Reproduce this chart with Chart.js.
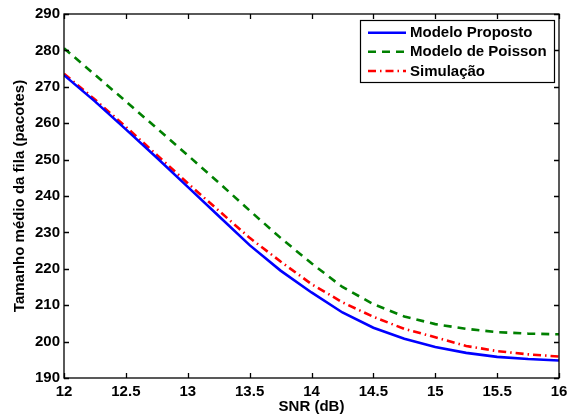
<!DOCTYPE html>
<html>
<head>
<meta charset="utf-8">
<script src="https://cdn.jsdelivr.net/npm/chart.js@4/dist/chart.umd.min.js"></script>
<style>
html,body{margin:0;padding:0;background:#fff;}
canvas{display:block;}
</style>
</head>
<body>
<canvas id="c" width="574" height="417"></canvas>
<script>
const snr = [12, 12.25, 12.5, 12.75, 13, 13.25, 13.5, 13.75, 14, 14.25, 14.5, 14.75, 15, 15.25, 15.5, 15.75, 16];
const modeloProposto = [273.2, 266, 258.3, 250.5, 242.5, 234.5, 226.5, 219.5, 213.5, 208, 203.8, 200.8, 198.5, 196.9, 195.8, 195.2, 194.8];
const modeloPoisson = [280.6, 273.3, 266, 258.6, 251.2, 243.7, 236, 228.5, 221.5, 215, 210.3, 206.9, 204.8, 203.5, 202.6, 202.2, 202];
const simulacao = [273.6, 266.5, 259, 251.3, 243.5, 236, 228.5, 222, 215.8, 210.8, 206.8, 203.5, 201.2, 198.8, 197.4, 196.5, 195.9];
const seriesNames = ['Modelo Proposto', 'Modelo de Poisson', 'Simulação'];
const xTicks = [12, 12.5, 13, 13.5, 14, 14.5, 15, 15.5, 16];
const yTicks = [190, 200, 210, 220, 230, 240, 250, 260, 270, 280, 290];
const xTitle = 'SNR (dB)';
const yTitle = 'Tamanho médio da fila (pacotes)';

const FONT = 'Liberation Sans, Arial, Helvetica, sans-serif';
const pts = arr => snr.map((x, i) => ({x: x, y: arr[i]}));

const framePlugin = {
  id: 'frame',
  afterDatasetsDraw(chart) {
    const {ctx, chartArea: a, scales} = chart;
    ctx.save();
    ctx.strokeStyle = '#000';
    ctx.lineWidth = 1.3;
    ctx.setLineDash([]);
    const L = 5;
    ctx.beginPath();
    xTicks.forEach(v => {
      const px = Math.round(scales.x.getPixelForValue(v)) + 0.5;
      ctx.moveTo(px, a.bottom); ctx.lineTo(px, a.bottom - L);
      ctx.moveTo(px, a.top); ctx.lineTo(px, a.top + L);
    });
    yTicks.forEach(v => {
      const py = Math.round(scales.y.getPixelForValue(v)) + 0.5;
      ctx.moveTo(a.left, py); ctx.lineTo(a.left + L, py);
      ctx.moveTo(a.right, py); ctx.lineTo(a.right - L, py);
    });
    ctx.stroke();
    ctx.strokeRect(a.left, a.top, a.right - a.left, a.bottom - a.top);
    ctx.restore();
  }
};

const legendPlugin = {
  id: 'boxLegend',
  afterDraw(chart) {
    const {ctx} = chart;
    const bx = 360, by = 20, bw = 194, bh = 62;
    ctx.save();
    ctx.fillStyle = '#fff';
    ctx.fillRect(bx, by, bw, bh);
    ctx.strokeStyle = '#000';
    ctx.lineWidth = 1.2;
    ctx.setLineDash([]);
    ctx.strokeRect(bx + 0.5, by + 0.5, bw, bh);
    const rows = [32.7, 51.7, 71];
    chart.data.datasets.forEach((ds, i) => {
      const y = rows[i];
      ctx.beginPath();
      ctx.strokeStyle = ds.borderColor;
      ctx.lineWidth = ds.borderWidth;
      ctx.setLineDash(ds.borderDash || []);
      ctx.moveTo(368, y); ctx.lineTo(406, y);
      ctx.stroke();
      ctx.setLineDash([]);
      ctx.fillStyle = '#000';
      ctx.font = 'bold 15px ' + FONT;
      ctx.textBaseline = 'middle';
      ctx.textAlign = 'left';
      ctx.fillText(ds.label, 410, y + 0.5);
    });
    ctx.restore();
  }
};

new Chart(document.getElementById('c'), {
  type: 'line',
  data: {
    datasets: [
      {label: seriesNames[0], data: pts(modeloProposto), borderColor: '#0000ff', borderWidth: 2.6, pointRadius: 0, fill: false, tension: 0},
      {label: seriesNames[1], data: pts(modeloPoisson), borderColor: '#008000', borderWidth: 2.6, borderDash: [8, 6], pointRadius: 0, fill: false, tension: 0},
      {label: seriesNames[2], data: pts(simulacao), borderColor: '#ff0000', borderWidth: 2.6, borderDash: [8, 4, 1.5, 4], pointRadius: 0, fill: false, tension: 0}
    ]
  },
  options: {
    responsive: false,
    animation: false,
    devicePixelRatio: 1,
    layout: {padding: {left: 0, right: 15, top: 14, bottom: 0}},
    plugins: {legend: {display: false}, tooltip: {enabled: false}},
    scales: {
      x: {
        type: 'linear', min: 12, max: 16,
        afterBuildTicks: s => { s.ticks = xTicks.map(v => ({value: v})); },
        afterFit: s => { s.height = 39; },
        grid: {display: false, drawTicks: false},
        border: {display: false},
        ticks: {color: '#000', padding: 5, font: {family: FONT, size: 15, weight: 'bold'}, callback: v => String(v), maxRotation: 0, autoSkip: false},
        title: {display: true, text: xTitle, color: '#000', font: {family: FONT, size: 15, weight: 'bold', lineHeight: 1}, padding: {top: 0, bottom: 3}}
      },
      y: {
        type: 'linear', min: 190, max: 290,
        afterBuildTicks: s => { s.ticks = yTicks.map(v => ({value: v})); },
        afterFit: s => { s.width = 64; },
        grid: {display: false, drawTicks: false},
        border: {display: false},
        ticks: {color: '#000', padding: 4, font: {family: FONT, size: 15, weight: 'bold'}, callback: v => String(v), autoSkip: false},
        title: {display: true, text: yTitle, color: '#000', font: {family: FONT, size: 15, weight: 'bold', lineHeight: 1}, padding: {top: 12, bottom: 0}}
      }
    }
  },
  plugins: [framePlugin, legendPlugin]
});
</script>
</body>
</html>
